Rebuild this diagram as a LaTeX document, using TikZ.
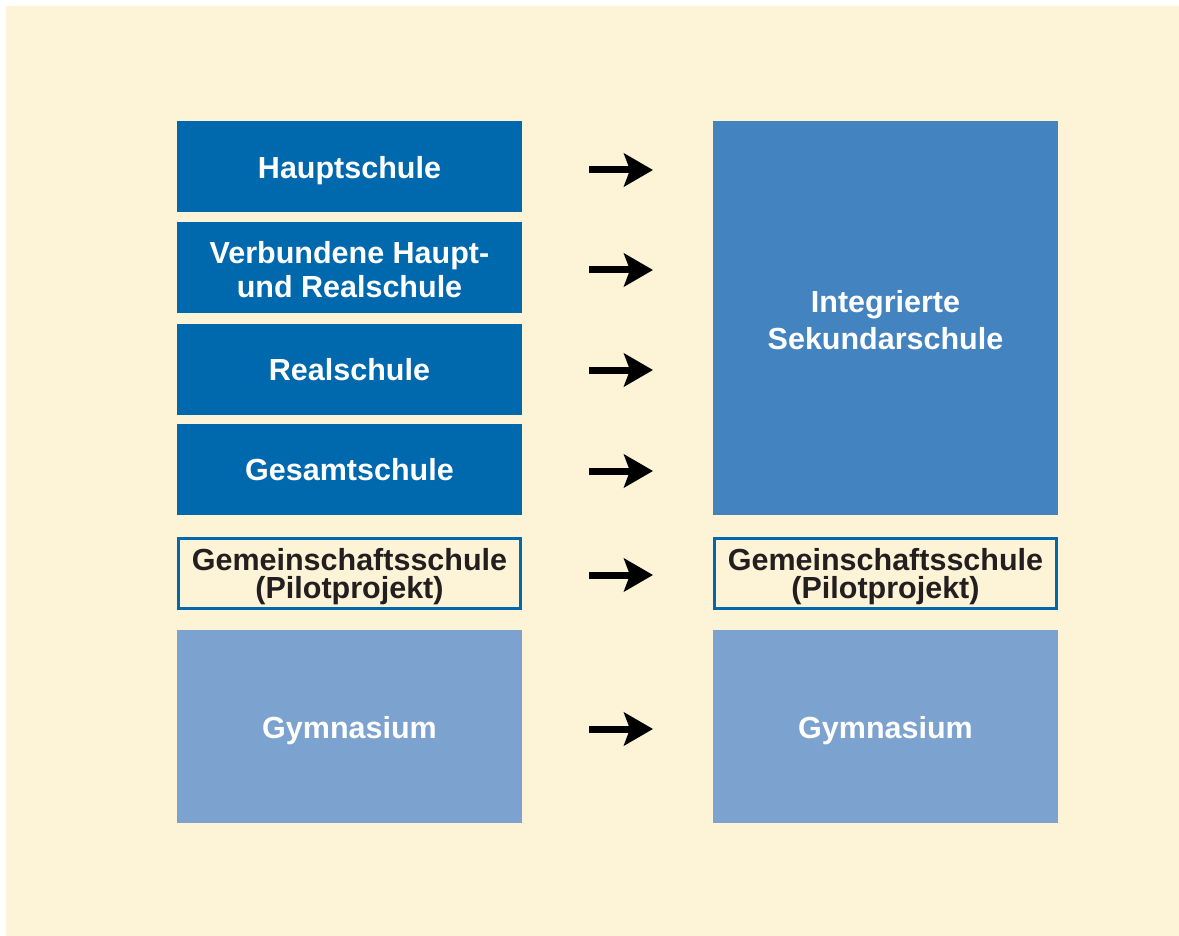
\documentclass[tikz,border=0pt]{standalone}
\usepackage{fontspec}
\setmainfont{Liberation Sans}
\usetikzlibrary{arrows.meta}
\definecolor{bgbeige}{HTML}{FDF3D6}
\definecolor{darkblue}{HTML}{0068AD}
\definecolor{midblue}{HTML}{4383C0}
\definecolor{lightblue}{HTML}{7CA2CF}
\definecolor{darktext}{HTML}{231F20}
\newcommand{\lowr}[1]{\rule{0pt}{#1}}
\tikzset{
  box/.style={minimum width=345pt, inner sep=0pt, outer sep=0pt, align=center, font=\fontsize{30.5}{36}\selectfont\bfseries, text=white, anchor=north west},
  dbox/.style={box, fill=darkblue, minimum height=91pt},
  outbox/.style={box, draw=darkblue, line width=3pt, fill=bgbeige, text=darktext, minimum width=342pt, minimum height=70pt, font=\fontsize{30.5}{28}\selectfont\bfseries},
  gbox/.style={box, fill=lightblue, minimum height=193pt},
  arr/.style={line width=7pt, -{Stealth[length=29pt,width=33pt,inset=6pt]}, black}
}
\begin{document}
\begin{tikzpicture}[x=1pt,y=-1pt]
\useasboundingbox (0,0) rectangle (1179,936);
\fill[bgbeige] (6,6) rectangle (1179,936);
\node[dbox] (haupt) at (177,121) {\lowr{30pt}Hauptschule};
\node[dbox] (verb) at (177,222) {\lowr{26pt}Verbundene Haupt-\\[-2pt]und Realschule};
\node[dbox] (real) at (177,324) {Realschule};
\node[dbox] (gesamt) at (177,424) {Gesamtschule};
\node[outbox] (gemL) at (178.5,538.5) {\lowr{28pt}Gemeinschaftsschule\\(Pilotprojekt)};
\node[gbox] (gymL) at (177,630) {\lowr{30pt}Gymnasium};
\node[box, fill=midblue, minimum height=394pt] (iss) at (713,121) {\lowr{26pt}Integrierte\\[1pt]Sekundarschule};
\node[outbox] (gemR) at (714.5,538.5) {\lowr{28pt}Gemeinschaftsschule\\(Pilotprojekt)};
\node[gbox] (gymR) at (713,630) {\lowr{30pt}Gymnasium};
\coordinate (a1s) at (589,170); \coordinate (a1e) at (653,170);
\coordinate (a2s) at (589,270); \coordinate (a2e) at (653,270);
\coordinate (a3s) at (589,370); \coordinate (a3e) at (653,370);
\coordinate (a4s) at (589,471); \coordinate (a4e) at (653,471);
\coordinate (a5s) at (589,575); \coordinate (a5e) at (653,575);
\coordinate (a6s) at (589,729); \coordinate (a6e) at (653,729);
\draw[arr] (a1s) -- (a1e);
\draw[arr] (a2s) -- (a2e);
\draw[arr] (a3s) -- (a3e);
\draw[arr] (a4s) -- (a4e);
\draw[arr] (a5s) -- (a5e);
\draw[arr] (a6s) -- (a6e);
\end{tikzpicture}
\end{document}
